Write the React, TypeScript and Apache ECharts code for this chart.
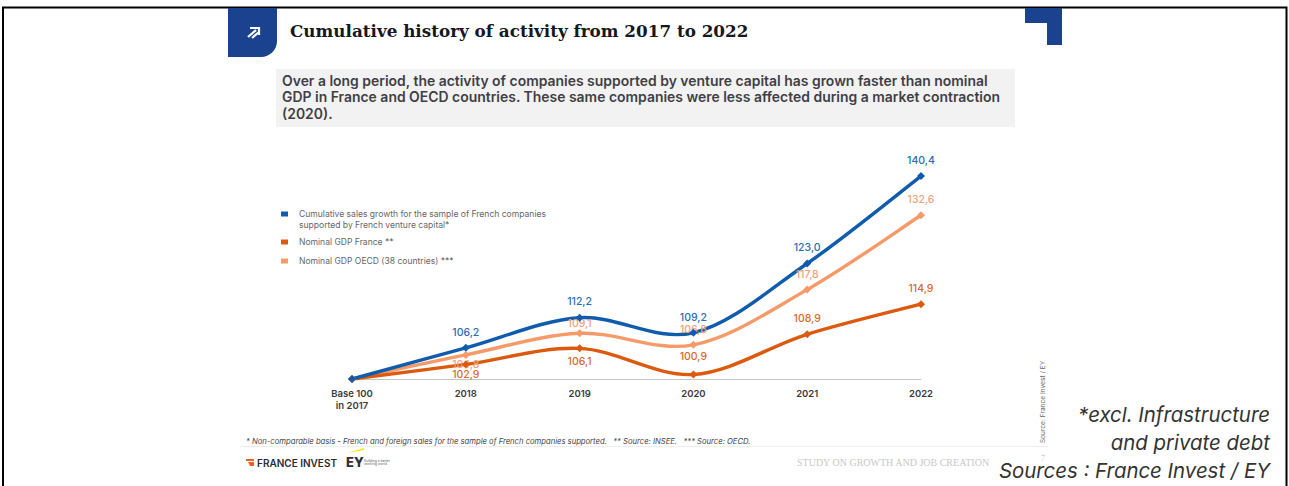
import React, { useEffect, useRef } from "react";
import * as echarts from "echarts";

const categories = ["Base 100\nin 2017", "2018", "2019", "2020", "2021", "2022"];
const salesGrowth = [100, 106.2, 112.2, 109.2, 123.0, 140.4];
const gdpFrance = [100, 102.9, 106.1, 100.9, 108.9, 114.9];
const gdpOecd = [100, 104.8, 109.1, 106.8, 117.8, 132.6];
const salesName = "Cumulative sales growth for the sample of French companies\nsupported by French venture capital*";
const franceName = "Nominal GDP France **";
const oecdName = "Nominal GDP OECD (38 countries) ***";
const title = "Cumulative history of activity from 2017 to 2022";
const intro = "Over a long period, the activity of companies supported by venture capital has grown faster than nominal\nGDP in France and OECD countries. These same companies were less affected during a market contraction\n(2020).";
const footnote = "* Non-comparable basis - French and foreign sales for the sample of French companies supported.   ** Source: INSEE.   *** Source: OECD.";

const BLUE = "#0f5cad";
const RED = "#dc5a10";
const PEACH = "#f59a68";
const NAVY = "#1b428f";
const SANS = "Inter, 'Noto Sans', sans-serif";

const fmt = (v: number) => v.toFixed(1).replace(".", ",");

// Catmull-Rom stroke through the points of one series, one bezier per interval.
function curveSeries(values: number[], color: string, z: number) {
  return {
    type: "custom",
    z,
    silent: true,
    clip: false,
    data: values.map((v, i) => [i, v]),
    encode: { x: 0, y: 1 },
    renderItem: (_: unknown, api: any) => {
      const i = api.value(0) as number;
      if (i >= values.length - 1) return { type: "group", children: [] };
      const at = (k: number) => {
        const c = Math.max(0, Math.min(values.length - 1, k));
        return api.coord([c, values[c]]) as number[];
      };
      const [p0, p1, p2, p3] = [at(i - 1), at(i), at(i + 1), at(i + 2)];
      const t = 1 / 6;
      return {
        type: "bezierCurve",
        shape: {
          x1: p1[0], y1: p1[1],
          x2: p2[0], y2: p2[1],
          cpx1: p1[0] + (p2[0] - p0[0]) * t, cpy1: p1[1] + (p2[1] - p0[1]) * t,
          cpx2: p2[0] - (p3[0] - p1[0]) * t, cpy2: p2[1] - (p3[1] - p1[1]) * t,
        },
        style: { fill: "none", stroke: color, lineWidth: 3.4, lineCap: "round" },
      };
    },
  };
}

// Diamonds and value labels; offsets[i] shifts a label away from neighbouring strokes.
function pointSeries(
  name: string, values: number[], color: string, labelColor: string,
  below: number[], offsets: Record<number, number>, z: number,
) {
  return {
    name,
    type: "line",
    z,
    symbol: "diamond",
    symbolSize: 8,
    lineStyle: { width: 0, opacity: 0 },
    itemStyle: { color },
    data: values.map((value, i) => ({
      value,
      label: {
        show: i > 0,
        position: below.includes(i) ? "bottom" : "top",
        distance: 6,
        offset: [0, offsets[i] ?? 0],
        color: labelColor,
        fontFamily: SANS,
        fontSize: 10.5,
        fontWeight: 500,
        formatter: () => fmt(value),
      },
    })),
  };
}

export default function App() {
  const ref = useRef<HTMLDivElement>(null);
  useEffect(() => {
    const chart = echarts.init(ref.current!, undefined, { renderer: "svg" });
    const legendRow = (y: number, color: string, text: string) => [
      { type: "rect", shape: { x: 281, y: y - 2.5, width: 7, height: 5 }, style: { fill: color } },
      { type: "text", x: 299, y: y - 6, style: { text, fill: "#666", font: `400 8.55px ${SANS}`, lineHeight: 11, textVerticalAlign: "top" } },
    ];
    const noteStyle = `italic 400 20.4px ${SANS}`;
    chart.setOption({
      animation: false,
      backgroundColor: "#fff",
      grid: { left: 352, right: 368, top: 153, bottom: 107 },
      xAxis: {
        type: "category",
        boundaryGap: false,
        data: categories,
        axisTick: { show: false },
        axisLine: { lineStyle: { color: "#c4c4c4", width: 1 } },
        axisLabel: { color: "#3a3a3a", fontFamily: SANS, fontSize: 9.5, fontWeight: 600, margin: 8, lineHeight: 12, interval: 0 },
      },
      yAxis: { type: "value", min: 100, max: 145, show: false, splitLine: { show: false } },
      series: [
        curveSeries(gdpOecd, PEACH, 2),
        curveSeries(gdpFrance, RED, 3),
        curveSeries(salesGrowth, BLUE, 4),
        pointSeries(oecdName, gdpOecd, PEACH, "#eea27a", [1], { 1: -6, 2: 6 }, 5),
        pointSeries(franceName, gdpFrance, RED, "#d9692a", [1, 2], { 1: -5, 2: -2, 3: -2 }, 6),
        pointSeries(salesName, salesGrowth, BLUE, "#2a6db0", [], { 2: -1 }, 7),
      ],
      graphic: [
        { type: "polyline", shape: { points: [[3, 486], [3, 7.5], [1286.5, 7.5], [1286.5, 486]] }, style: { stroke: "#000", lineWidth: 2, fill: "none" } },
        { type: "rect", shape: { x: 228, y: 8, width: 49, height: 49, r: [0, 0, 16, 0] }, style: { fill: NAVY } },
        { type: "polyline", shape: { points: [[248, 37], [256, 30]] }, style: { stroke: "#fff", lineWidth: 2.2, fill: "none" } },
        { type: "polyline", shape: { points: [[252, 38], [259, 32]] }, style: { stroke: "#fff", lineWidth: 2.2, fill: "none" } },
        { type: "polyline", shape: { points: [[250, 28], [259, 28], [259, 35]] }, style: { stroke: "#fff", lineWidth: 2.2, fill: "none" } },
        { type: "polygon", shape: { points: [[1025, 8], [1062, 8], [1062, 45], [1047, 45], [1047, 23], [1025, 23]] }, style: { fill: NAVY } },
        { type: "text", x: 290, y: 31, style: { text: title, fill: "#17171f", font: "700 16.8px 'DejaVu Serif', serif", textVerticalAlign: "middle" } },
        { type: "rect", shape: { x: 276, y: 69, width: 739, height: 58 }, style: { fill: "#f2f2f2" } },
        { type: "text", x: 282, y: 72, style: { text: intro, fill: "#3f3f46", font: `600 13.95px ${SANS}`, lineHeight: 16.5, textVerticalAlign: "top" } },
        ...legendRow(214, BLUE, salesName),
        ...legendRow(242, RED, franceName),
        ...legendRow(261, PEACH, oecdName),
        { type: "text", x: 246, y: 441, style: { text: footnote, fill: "#444", font: `italic 400 7.65px ${SANS}`, textVerticalAlign: "middle" } },
        { type: "line", shape: { x1: 240, y1: 446.5, x2: 1048, y2: 446.5 }, style: { stroke: "#eeeeee", lineWidth: 1 } },
        { type: "polygon", shape: { points: [[246, 459], [254, 459], [254, 461], [246, 461]] }, style: { fill: "#e8622a" } },
        { type: "polygon", shape: { points: [[248, 462], [254, 462], [254, 466], [250, 466]] }, style: { fill: "#e8622a" } },
        { type: "text", x: 257, y: 462.5, style: { text: "FRANCE INVEST", fill: "#2b2b33", font: `600 10px ${SANS}`, textVerticalAlign: "middle" } },
        { type: "text", x: 346, y: 462, style: { text: "EY", fill: "#2e2e38", font: `800 13px ${SANS}`, textVerticalAlign: "middle" } },
        { type: "polygon", shape: { points: [[347, 453], [364, 448], [364, 450]] }, style: { fill: "#ffe600" } },
        { type: "text", x: 364, y: 462.5, style: { text: "Building a better\nworking world", fill: "#666", font: `400 3.4px ${SANS}`, lineHeight: 3.6, textVerticalAlign: "middle" } },
        { type: "text", x: 797, y: 462, style: { text: "STUDY ON GROWTH AND JOB CREATION", fill: "#c8c8c8", font: "400 10px 'Liberation Serif', serif", textVerticalAlign: "middle" } },
        { type: "text", x: 1043, y: 458, style: { text: "7", fill: "#c8c8c8", font: "400 8px 'Liberation Serif', serif", textAlign: "center", textVerticalAlign: "middle" } },
        { type: "text", x: 1043, y: 402, rotation: Math.PI / 2, style: { text: "Source: France Invest / EY", fill: "#666", font: `400 6.6px ${SANS}`, textAlign: "center", textVerticalAlign: "middle" } },
        { type: "text", x: 1270, y: 414, style: { text: "*excl. Infrastructure", fill: "#333", font: noteStyle, textAlign: "right", textVerticalAlign: "middle" } },
        { type: "text", x: 1270, y: 442, style: { text: "and private debt", fill: "#333", font: noteStyle, textAlign: "right", textVerticalAlign: "middle" } },
        { type: "text", x: 1270, y: 470, style: { text: "Sources : France Invest / EY", fill: "#333", font: noteStyle, textAlign: "right", textVerticalAlign: "middle" } },
      ],
    });
    return () => chart.dispose();
  }, []);
  return <div ref={ref} style={{ position: "fixed", left: 0, top: 0, width: 1289, height: 486 }} />;
}
